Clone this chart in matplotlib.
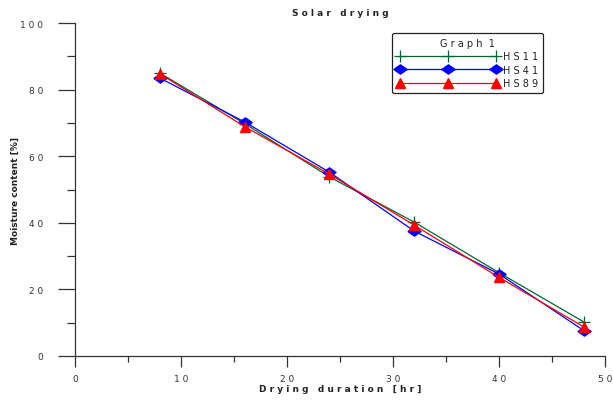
import matplotlib.pyplot as plt
import numpy as np

hours = [8, 16, 24, 32, 40, 48]
hs11 = [85.0, 69.8, 53.8, 40.2, 25.0, 10.2]
hs41 = [83.5, 70.3, 55.2, 37.5, 24.6, 7.6]
hs89 = [84.8, 68.9, 54.6, 39.3, 23.6, 8.7]

def spaced(s):
    return " ".join(s)

fig = plt.figure(figsize=(6.13, 4.02), dpi=100)
ax = fig.add_axes([0.1223, 0.112, 0.865, 0.828])

# flattened diamond like the original software
diamond = [(-1, 0), (0, 0.7), (1, 0), (0, -0.7), (-1, 0)]

ax.plot(hours, hs11, color='#006633', lw=0.9, marker='+', ms=9, mew=0.9,
        label=spaced("HS11"))
ax.plot(hours, hs41, color='#0000ff', lw=0.9, marker=diamond, ms=9.5,
        label=spaced("HS41"))
ax.plot(hours, hs89, color='#ff0000', lw=0.9, marker='^', ms=7.5,
        label=spaced("HS89"))

ax.set_xlim(0, 50)
ax.set_ylim(0, 100)
ax.set_xticks(np.arange(0, 51, 10))
ax.set_xticks(np.arange(5, 50, 10), minor=True)
ax.set_yticks(np.arange(0, 101, 20))
ax.set_yticks(np.arange(10, 100, 20), minor=True)
ax.set_xticklabels([spaced(str(v)) for v in range(0, 51, 10)])
ax.set_yticklabels([spaced(str(v)) for v in range(0, 101, 20)])

for s in ['top', 'right']:
    ax.spines[s].set_visible(False)
for s in ['left', 'bottom']:
    ax.spines[s].set_color('#333333')
    ax.spines[s].set_linewidth(0.9)

ax.tick_params(axis='x', which='major', direction='out', length=8, width=0.9,
               color='#333333', labelsize=6.5, labelcolor='#333333', pad=5)
ax.tick_params(axis='x', which='minor', direction='out', length=4, width=0.9,
               color='#333333')
ax.tick_params(axis='y', which='major', direction='out', length=12, width=0.9,
               color='#333333', labelsize=6.5, labelcolor='#333333', pad=11)
ax.tick_params(axis='y', which='minor', direction='out', length=6, width=0.9,
               color='#333333')

ax.set_xlabel("D r y i n g   d u r a t i o n   [ h r ]", fontsize=6.5,
              fontweight='bold', color='#222222')
ax.xaxis.set_label_coords(0.5, -0.085)
ax.set_ylabel("Moisture content [%]", fontsize=6.5, fontweight='bold',
              color='#222222')
ax.yaxis.set_label_coords(-0.104, 0.5)
ax.set_title("S o l a r   d r y i n g", fontsize=6.5, fontweight='bold',
             color='#222222', pad=6)

leg = ax.legend(title=spaced("Graph") + "  1", loc='upper left',
                bbox_to_anchor=(0.598, 0.97), fontsize=7, title_fontsize=7,
                numpoints=3, handlelength=10.5, handletextpad=0.4,
                labelspacing=0.35, borderpad=0.5, borderaxespad=0,
                fancybox=True, edgecolor='#222222', framealpha=1)
leg.get_frame().set_linewidth(0.9)
for t in leg.get_texts():
    t.set_color('#222222')
leg.get_title().set_color('#222222')

fig.savefig("out.png", dpi=100)
